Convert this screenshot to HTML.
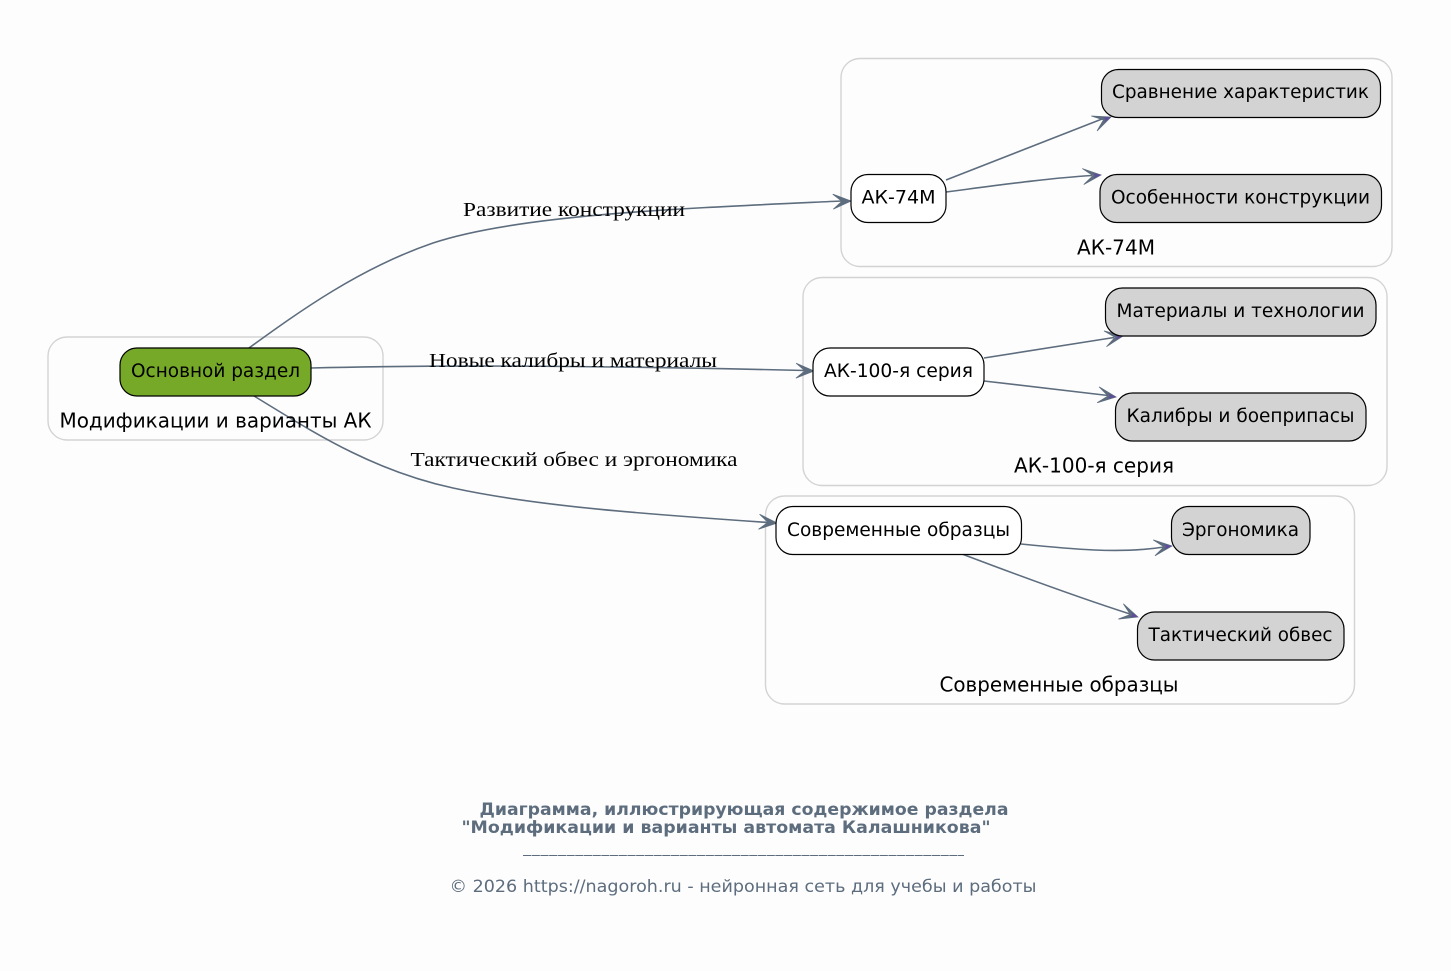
<!DOCTYPE html>
<html><head><meta charset="utf-8"><style>
html,body{margin:0;padding:0;background:#fdfdfd}
svg{display:block}
.c{fill:none;stroke:#d3d3d3;stroke-width:1.4}
.n{stroke:#000;stroke-width:1.2}
.t{font-family:"DejaVu Sans",sans-serif;font-size:18.67px;fill:#000;text-anchor:middle}
.g{font-size:20px}
.l{font-family:"Liberation Serif",serif;font-size:20px;fill:#000;text-anchor:middle}
.e{fill:none;stroke:#5d6d7e;stroke-width:1.6}
.a{fill:#5d6d7e;stroke:#5d6d7e;stroke-width:.8;stroke-linejoin:miter}
.p{fill:#5f4b9e;stroke:none}
.f{font-family:"DejaVu Sans",sans-serif;font-size:17px;fill:#5d6d7e}
</style></head><body>
<svg width="1451" height="971" viewBox="0 0 1451 971" xmlns="http://www.w3.org/2000/svg">
<rect width="1451" height="971" fill="#fdfdfd"/>
<rect class="c" x="48" y="337" width="335" height="103" rx="19"/>
<rect class="c" x="841" y="58.500" width="551" height="208" rx="19"/>
<rect class="c" x="803" y="277.500" width="584" height="208" rx="19"/>
<rect class="c" x="765.500" y="496" width="589" height="208" rx="19"/>

<path class="e" d="M249 348C300 311 360 268 433 243C520 214 690 208 842 201"/>
<path class="e" d="M311 368C470 364 660 367 805 370.500"/>
<path class="e" d="M254 396C310 430 370 470 453 488C540 507 660 515 768 522.500"/>
<path class="e" d="M946 180L1102 119"/>
<path class="e" d="M946 192C1000 185 1050 178 1092 175.500"/>
<path class="e" d="M984 358L1114 337.500"/>
<path class="e" d="M984 381L1108 395.500"/>
<path class="e" d="M1021 544C1070 549 1120 554 1164 547"/>
<path class="e" d="M962 554C1020 576 1080 598 1130 614"/>

<g transform="translate(851,201) rotate(-2)"><polygon class="a" points="0,0 -18,-7.500 -9,0 -18,7.500"/></g>
<g transform="translate(814,371) rotate(1)"><polygon class="a" points="0,0 -18,-7.500 -9,0 -18,7.500"/></g>
<g transform="translate(777,523) rotate(4)"><polygon class="a" points="0,0 -18,-7.500 -9,0 -18,7.500"/></g>
<g transform="translate(1111,117) rotate(-21)"><polygon class="a" points="0,0 -18,-8 -8,0 -18,8"/><polygon class="p" points="0,0 -8,-2.500 -6,0 -8,2.500"/></g>
<g transform="translate(1101,175) rotate(-5)"><polygon class="a" points="0,0 -18,-8 -8,0 -18,8"/><polygon class="p" points="0,0 -8,-2.500 -6,0 -8,2.500"/></g>
<g transform="translate(1123,336) rotate(-9)"><polygon class="a" points="0,0 -18,-8 -8,0 -18,8"/><polygon class="p" points="0,0 -8,-2.500 -6,0 -8,2.500"/></g>
<g transform="translate(1116,397) rotate(7)"><polygon class="a" points="0,0 -18,-8 -8,0 -18,8"/><polygon class="p" points="0,0 -8,-2.500 -6,0 -8,2.500"/></g>
<g transform="translate(1172,546) rotate(-6)"><polygon class="a" points="0,0 -18,-8 -8,0 -18,8"/><polygon class="p" points="0,0 -8,-2.500 -6,0 -8,2.500"/></g>
<g transform="translate(1138,617) rotate(18)"><polygon class="a" points="0,0 -18,-8 -8,0 -18,8"/><polygon class="p" points="0,0 -8,-2.500 -6,0 -8,2.500"/></g>

<rect class="n" x="120" y="348" width="191" height="48" rx="17" fill="#76a928"/>
<rect class="n" x="851" y="174.500" width="95" height="48" rx="17" fill="#fff"/>
<rect class="n" x="1101.500" y="69.500" width="279" height="48" rx="17" fill="#d3d3d3"/>
<rect class="n" x="1100" y="174.500" width="281.500" height="48" rx="17" fill="#d3d3d3"/>
<rect class="n" x="813" y="348" width="171" height="48" rx="17" fill="#fff"/>
<rect class="n" x="1105.500" y="288" width="270.500" height="48" rx="17" fill="#d3d3d3"/>
<rect class="n" x="1115.500" y="393" width="250.500" height="48" rx="17" fill="#d3d3d3"/>
<rect class="n" x="776" y="506.500" width="245.500" height="48" rx="17" fill="#fff"/>
<rect class="n" x="1171.500" y="506.500" width="138.500" height="48" rx="17" fill="#d3d3d3"/>
<rect class="n" x="1137.500" y="612" width="206.500" height="48" rx="17" fill="#d3d3d3"/>

<text class="t" x="215.500" y="377" textLength="169" lengthAdjust="spacingAndGlyphs">Основной раздел</text>
<text class="t g" x="215.500" y="427.500" textLength="312" lengthAdjust="spacingAndGlyphs">Модификации и варианты АК</text>
<text class="t" x="898.500" y="203.500" textLength="74" lengthAdjust="spacingAndGlyphs">АК-74М</text>
<text class="t g" x="1116" y="254.500" textLength="78" lengthAdjust="spacingAndGlyphs">АК-74М</text>
<text class="t" x="1240.500" y="98" textLength="257" lengthAdjust="spacingAndGlyphs">Сравнение характеристик</text>
<text class="t" x="1240.500" y="203.500" textLength="259" lengthAdjust="spacingAndGlyphs">Особенности конструкции</text>
<text class="t" x="898.500" y="377" textLength="149" lengthAdjust="spacingAndGlyphs">АК-100-я серия</text>
<text class="t g" x="1094" y="472.500" textLength="160" lengthAdjust="spacingAndGlyphs">АК-100-я серия</text>
<text class="t" x="1240.500" y="317" textLength="248" lengthAdjust="spacingAndGlyphs">Материалы и технологии</text>
<text class="t" x="1240.500" y="422" textLength="228" lengthAdjust="spacingAndGlyphs">Калибры и боеприпасы</text>
<text class="t" x="898.500" y="536" textLength="223" lengthAdjust="spacingAndGlyphs">Современные образцы</text>
<text class="t g" x="1059" y="691.500" textLength="239" lengthAdjust="spacingAndGlyphs">Современные образцы</text>
<text class="t" x="1240.500" y="536" textLength="117" lengthAdjust="spacingAndGlyphs">Эргономика</text>
<text class="t" x="1240.500" y="641" textLength="184" lengthAdjust="spacingAndGlyphs">Тактический обвес</text>

<text class="l" x="574" y="216" textLength="222" lengthAdjust="spacingAndGlyphs">Развитие конструкции</text>
<text class="l" x="573" y="367" textLength="288" lengthAdjust="spacingAndGlyphs">Новые калибры и материалы</text>
<text class="l" x="574" y="466" textLength="327" lengthAdjust="spacingAndGlyphs">Тактический обвес и эргономика</text>

<text class="f" x="744" y="815" text-anchor="middle" font-weight="bold" textLength="529" lengthAdjust="spacingAndGlyphs">Диаграмма, иллюстрирующая содержимое раздела</text>
<text class="f" x="726" y="833" text-anchor="middle" font-weight="bold" textLength="529" lengthAdjust="spacingAndGlyphs">"Модификации и варианты автомата Калашникова"</text>
<line x1="523" y1="855.500" x2="964" y2="855.500" stroke="#5d6d7e" stroke-width="1" stroke-dasharray="8.200 .5"/>
<text class="f" x="743" y="892" text-anchor="middle" textLength="587" lengthAdjust="spacingAndGlyphs">© 2026 https://nagoroh.ru - нейронная сеть для учебы и работы</text>
</svg>
</body></html>
